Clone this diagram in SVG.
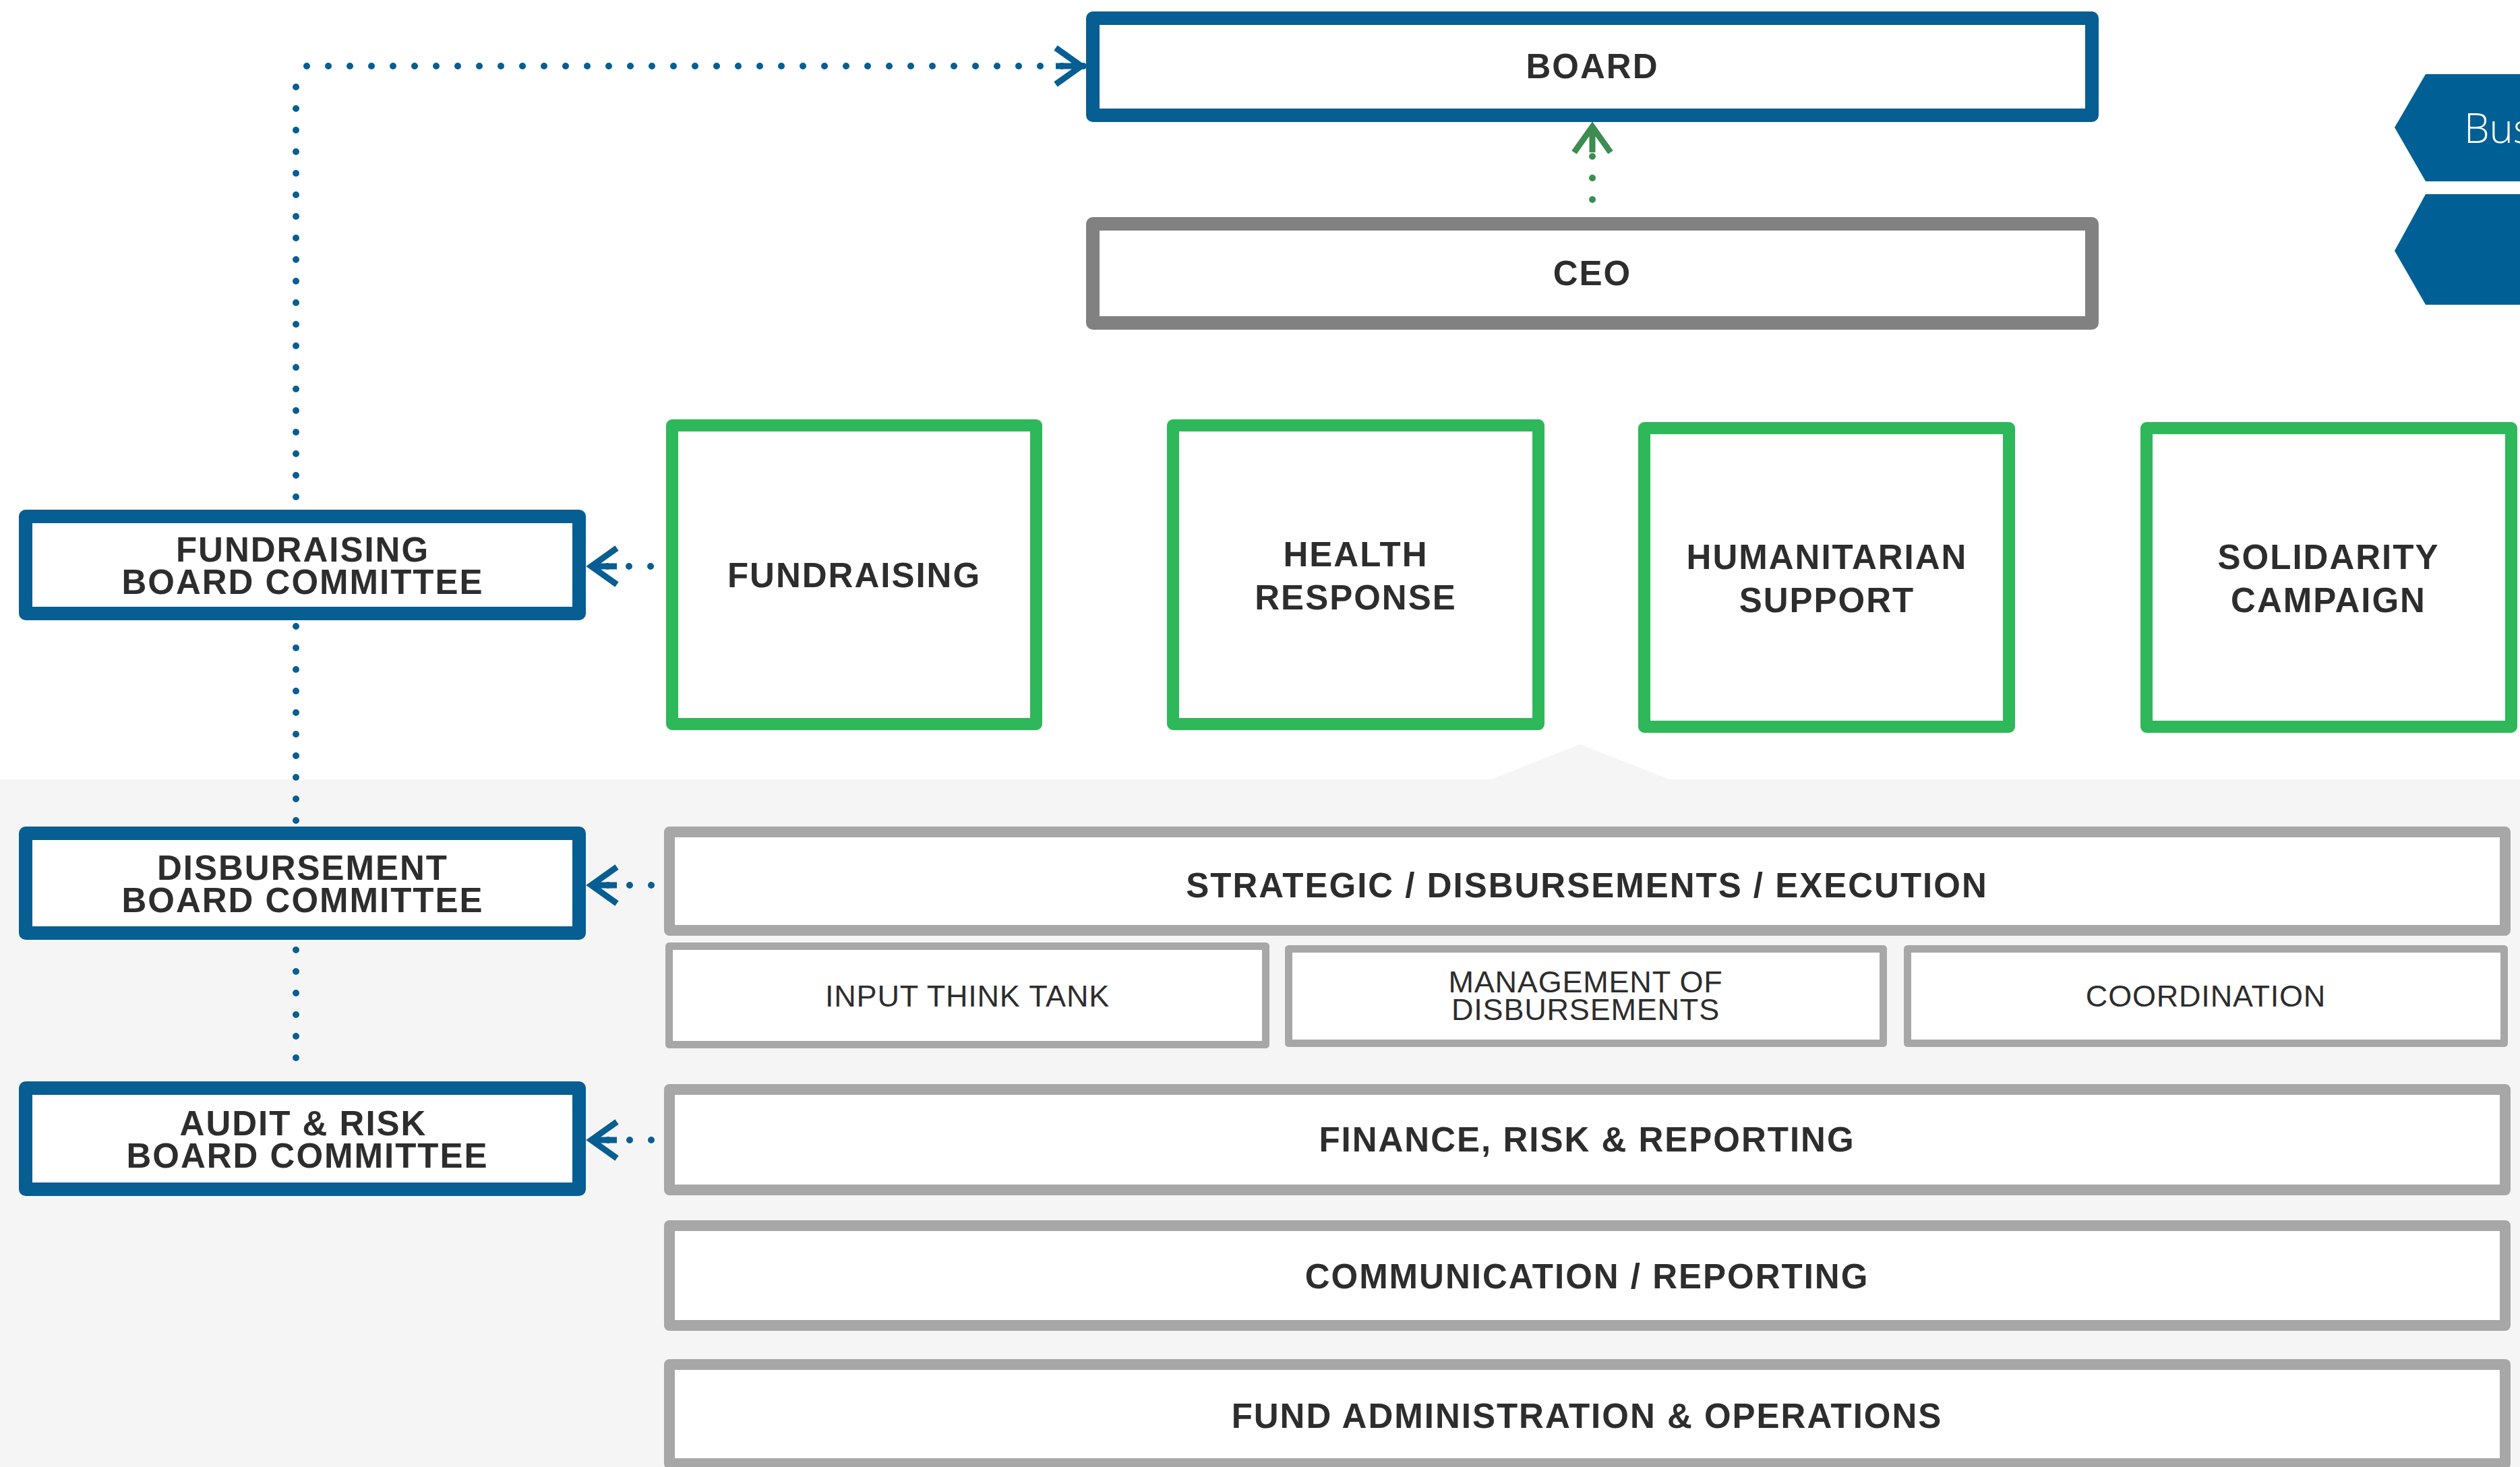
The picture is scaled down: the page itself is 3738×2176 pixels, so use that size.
<svg xmlns="http://www.w3.org/2000/svg" width="3738" height="2176" viewBox="0 0 3738 2176">
  <style>
    .blue { fill: #ffffff; stroke: #065e92; stroke-width: 20; stroke-linejoin: round; }
    .ceo { fill: #ffffff; stroke: #818181; stroke-width: 20; stroke-linejoin: round; }
    .green { fill: #ffffff; stroke: #2eb85a; stroke-width: 18; stroke-linejoin: round; }
    .grayw { fill: #ffffff; stroke: #a7a7a7; stroke-width: 16; stroke-linejoin: round; }
    .grays { fill: #ffffff; stroke: #a7a7a7; stroke-width: 11; stroke-linejoin: round; }
    .b { font-family: "Liberation Sans", Arial, sans-serif; font-weight: 700; font-size: 51px; letter-spacing: 2px; fill: #2d2d2d; text-anchor: middle; }
    .r { font-family: "Liberation Sans", Arial, sans-serif; font-weight: 400; font-size: 45px; letter-spacing: 0.8px; fill: #2d2d2d; text-anchor: middle; }
    .dotBlue { fill: none; stroke: #065e92; stroke-width: 10; stroke-linecap: round; stroke-dasharray: 0 32; }
    .dotGreen { fill: none; stroke: #3d8c51; stroke-width: 10; stroke-linecap: round; stroke-dasharray: 0 32; }
    .badge { fill: #005f94; }
    .badgeText { font-family: "Open Sans", "Liberation Sans", sans-serif; font-weight: 300; font-size: 60px; fill: #ffffff; }
  </style>
  <defs>
    <marker id="arrowBlue" markerUnits="userSpaceOnUse" viewBox="-50 -34 60 68" refX="0" refY="0" markerWidth="60" markerHeight="68" orient="auto">
      <path d="M-42,-27 L-4,0 L-42,27 M-42,0 L-4,0" fill="none" stroke="#065e92" stroke-width="9"/>
    </marker>
    <marker id="arrowGreen" markerUnits="userSpaceOnUse" viewBox="-50 -34 60 68" refX="0" refY="0" markerWidth="60" markerHeight="68" orient="auto">
      <path d="M-42,-27 L-4,0 L-42,27 M-42,0 L-4,0" fill="none" stroke="#3d8c51" stroke-width="9"/>
    </marker>
  </defs>

  <rect x="0" y="0" width="3738" height="2176" fill="#ffffff"/>
  <g id="background">
    <rect x="0" y="1156" width="3738" height="1020" fill="#f5f5f5"/>
    <polygon points="2209,1157 2344,1104 2479,1157" fill="#f5f5f5"/>
  </g>

  <g id="connectors">
    <path class="dotBlue" d="M439,1569 L439,120"/>
    <path class="dotBlue" d="M455,98 L1608,98" marker-end="url(#arrowBlue)"/>
    <path class="dotGreen" d="M2362,296 L2362,184" marker-end="url(#arrowGreen)"/>
    <path class="dotBlue" d="M965,840 L873,840" marker-end="url(#arrowBlue)"/>
    <path class="dotBlue" d="M966,1313 L873,1313" marker-end="url(#arrowBlue)"/>
    <path class="dotBlue" d="M966,1691 L873,1691" marker-end="url(#arrowBlue)"/>
  </g>

  <g id="board">
    <rect class="blue" x="1621" y="27" width="1482" height="144"/>
    <text class="b" x="2362" y="116">BOARD</text>
  </g>
  <g id="ceo">
    <rect class="ceo" x="1621" y="332" width="1482" height="147"/>
    <text class="b" x="2362" y="423">CEO</text>
  </g>

  <g id="fundraising-board-committee">
    <rect class="blue" x="38" y="766" width="821" height="144"/>
    <text class="b" x="449" y="833">FUNDRAISING</text>
    <text class="b" x="449" y="881">BOARD COMMITTEE</text>
  </g>
  <g id="disbursement-board-committee">
    <rect class="blue" x="38" y="1236" width="821" height="148"/>
    <text class="b" x="449" y="1305">DISBURSEMENT</text>
    <text class="b" x="449" y="1353">BOARD COMMITTEE</text>
  </g>
  <g id="audit-risk-board-committee">
    <rect class="blue" x="38" y="1614" width="821" height="150"/>
    <text class="b" x="450" y="1684">AUDIT &amp; RISK</text>
    <text class="b" x="456" y="1732">BOARD COMMITTEE</text>
  </g>

  <g id="fundraising">
    <rect class="green" x="997" y="631" width="540" height="443"/>
    <text class="b" x="1267" y="871">FUNDRAISING</text>
  </g>
  <g id="health-response">
    <rect class="green" x="1740" y="631" width="542" height="443"/>
    <text class="b" x="2011" y="840">HEALTH</text>
    <text class="b" x="2011" y="904">RESPONSE</text>
  </g>
  <g id="humanitarian-support">
    <rect class="green" x="2439" y="635" width="541" height="443"/>
    <text class="b" x="2710" y="844">HUMANITARIAN</text>
    <text class="b" x="2710" y="908">SUPPORT</text>
  </g>
  <g id="solidarity-campaign">
    <rect class="green" x="3184" y="635" width="541" height="443"/>
    <text class="b" x="3454" y="844">SOLIDARITY</text>
    <text class="b" x="3454" y="908">CAMPAIGN</text>
  </g>

  <g id="strategic">
    <rect class="grayw" x="993" y="1234" width="2723" height="146"/>
    <text class="b" x="2354" y="1331">STRATEGIC / DISBURSEMENTS / EXECUTION</text>
  </g>
  <g id="input-think-tank">
    <rect class="grays" x="992.5" y="1403.5" width="885" height="146"/>
    <text class="r" x="1435" y="1493">INPUT THINK TANK</text>
  </g>
  <g id="management-of-disbursements">
    <rect class="grays" x="1911.5" y="1407.5" width="882" height="140"/>
    <text class="r" x="2352" y="1472">MANAGEMENT OF</text>
    <text class="r" x="2352" y="1513">DISBURSEMENTS</text>
  </g>
  <g id="coordination">
    <rect class="grays" x="2829.5" y="1407.5" width="885" height="140"/>
    <text class="r" x="3272" y="1493">COORDINATION</text>
  </g>
  <g id="finance-risk-reporting">
    <rect class="grayw" x="993" y="1616" width="2723" height="149"/>
    <text class="b" x="2354" y="1708">FINANCE, RISK &amp; REPORTING</text>
  </g>
  <g id="communication-reporting">
    <rect class="grayw" x="993" y="1818" width="2723" height="148"/>
    <text class="b" x="2354" y="1911">COMMUNICATION / REPORTING</text>
  </g>
  <g id="fund-administration-operations">
    <rect class="grayw" x="993" y="2024" width="2723" height="147"/>
    <text class="b" x="2354" y="2118">FUND ADMINISTRATION &amp; OPERATIONS</text>
  </g>

  <g id="badge-1">
    <polygon class="badge" points="3552,189 3598,110 3738,110 3738,269 3598,269"/>
    <text class="badgeText" x="3655" y="212">Bus</text>
  </g>
  <g id="badge-2">
    <polygon class="badge" points="3552,372 3598,288 3738,288 3738,452 3598,452"/>
  </g>
</svg>
